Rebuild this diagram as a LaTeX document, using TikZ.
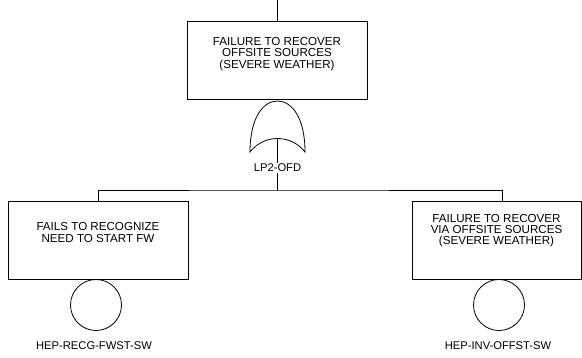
\documentclass[tikz,border=0pt]{standalone}
\usepackage{fontspec}
\setmainfont{Liberation Sans}
\usepackage{tikz}
\usetikzlibrary{positioning}
\usetikzlibrary{calc}
\tikzstyle{event} = [draw, rectangle, 
    minimum height=78pt, minimum width=180pt, inner sep=0pt]
\tikzstyle{eventtext} = [align=center, inner sep=0pt,
    font=\fontsize{11.6}{11.2}\selectfont]
\tikzstyle{basic} = [draw, circle, minimum size=51pt, inner sep=0pt]
\tikzstyle{tag} = [inner sep=1pt, font=\fontsize{11.2}{11}\selectfont]
\tikzstyle{input} = [coordinate]

\begin{document}
\begin{tikzpicture}[x=1pt, y=-1pt, line width=0.8pt]
    \useasboundingbox (0,0) rectangle (582,357);
    % We start by placing the top event and its gate
    \node [input] (topin) at (277,0) {};
    \node [event] (offsite) at (277,60.5) {};
    \node [eventtext] (offsitetxt) at ([yshift=-33pt]offsite.north)
        {FAILURE TO RECOVER\\OFFSITE SOURCES\\(SEVERE WEATHER)};
    \draw (250,152) .. controls (250,118) and (263,101) .. (277.5,101)
        .. controls (292,101) and (305,118) .. (305,152)
        .. controls (291,134) and (264,134) .. (250,152) -- cycle;
    \coordinate (gateout) at (277.5,138.5);
    \node [tag] (gatelbl) at (277.5,168) {LP2-OFD};
    \coordinate (split) at (277.5,190);

    % Then the two inputs of the gate
    \node [event] (fails) at (98,240) {};
    \node [eventtext] (failstxt) at ([yshift=-32pt]fails.north)
        {FAILS TO RECOGNIZE\\NEED TO START FW};
    \node [event, minimum width=169pt] (viaoff) at (496.5,240) {};
    \node [eventtext] (viaofftxt) at ([yshift=-30pt]viaoff.north)
        {FAILURE TO RECOVER\\VIA OFFSITE SOURCES\\(SEVERE WEATHER)};
    \node [basic] (recg) at (96,305) {};
    \node [tag] (recglbl) at (94,346) {HEP-RECG-FWST-SW};
    \node [basic] (inv) at (499,305) {};
    \node [tag] (invlbl) at (498,346) {HEP-INV-OFFST-SW};

    % Once the nodes are placed, connecting them is easy.
    \draw (topin) -- (offsite);
    \draw (gateout) -- (gatelbl.north);
    \draw (gatelbl.south) -- (split);
    \draw (fails.north) |- (split) -| ([xshift=5.5pt]viaoff.north);
\end{tikzpicture}
\end{document}
